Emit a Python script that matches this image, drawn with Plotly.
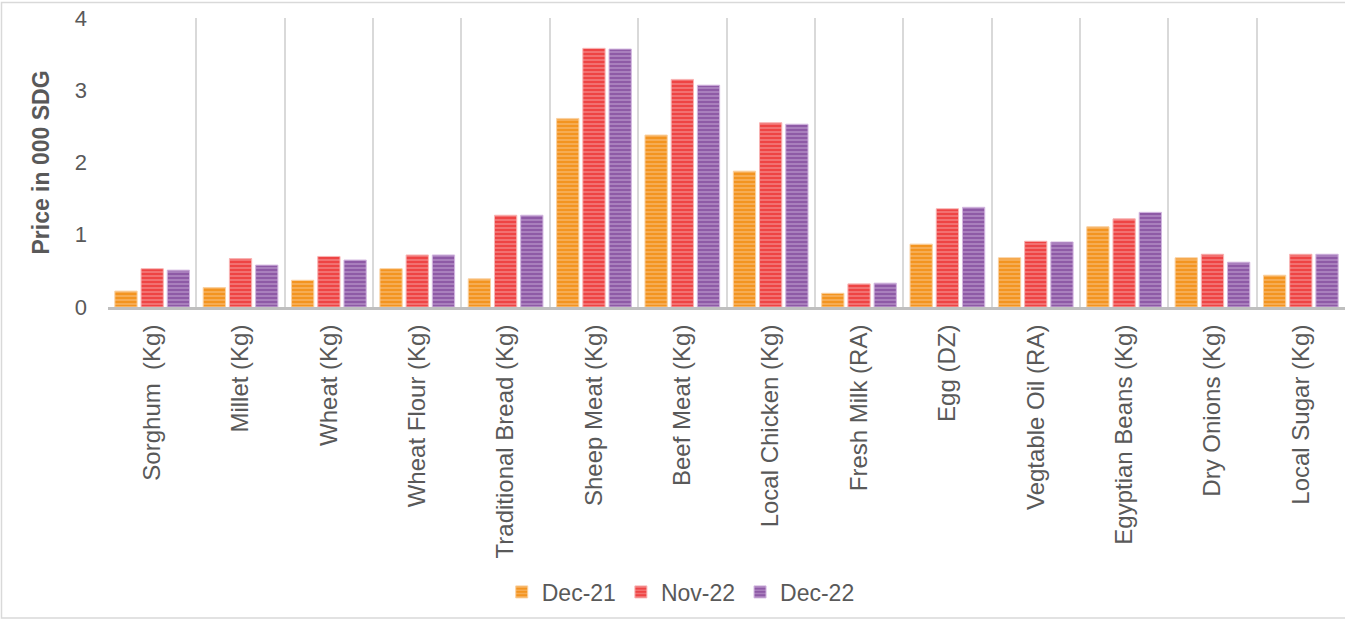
import plotly.graph_objects as go

categories = ["Sorghum \u00a0(Kg)", "Millet (Kg)", "Wheat (Kg)", "Wheat Flour (Kg)",
              "Traditional Bread (Kg)", "Sheep Meat (Kg)", "Beef Meat (Kg)",
              "Local Chicken (Kg)", "Fresh Milk (RA)", "Egg (DZ)", "Vegtable Oil (RA)",
              "Egyptian Beans (Kg)", "Dry Onions (Kg)", "Local Sugar (Kg)"]
dec21 = [0.22, 0.27, 0.37, 0.53, 0.39, 2.61, 2.38, 1.88, 0.19, 0.87, 0.68, 1.11, 0.68, 0.44]
nov22 = [0.53, 0.67, 0.70, 0.72, 1.27, 3.58, 3.15, 2.55, 0.32, 1.36, 0.91, 1.22, 0.73, 0.73]
dec22 = [0.51, 0.58, 0.65, 0.72, 1.27, 3.57, 3.07, 2.53, 0.33, 1.38, 0.90, 1.31, 0.62, 0.73]
series_names = ["Dec-21", "Nov-22", "Dec-22"]

colors = ["#F39420", "#EE4444", "#8E5AA6"]
lights = ["#FAD1A0", "#F8B4B4", "#D2B6DF"]

fig = go.Figure()
for name, vals, c, lc in zip(series_names, [dec21, nov22, dec22], colors, lights):
    fig.add_trace(go.Bar(
        x=categories, y=vals, name=name,
        marker=dict(color=c, line=dict(color=lc, width=1),
                    pattern=dict(shape="-", bgcolor=c, fgcolor=lc, size=4, solidity=0.4)),
    ))

font = "Liberation Sans, Arial, sans-serif"
fig.update_layout(
    width=1345, height=620,
    margin=dict(l=108, r=0, t=18, b=313),
    paper_bgcolor="white", plot_bgcolor="white",
    barmode="group", bargap=0.11, bargroupgap=0.15,
    font=dict(family=font, color="#595959", size=22),
    showlegend=True,
    legend=dict(orientation="h", x=0.463, xanchor="center", y=-0.986, yanchor="middle",
                font=dict(size=23, color="#595959"), itemwidth=30, traceorder="normal"),
    xaxis=dict(type="category", tickson="boundaries", showgrid=True, gridcolor="#D9D9D9",
               gridwidth=2, showline=True, linecolor="#BFBFBF", linewidth=3,
               tickangle=-90, tickfont=dict(size=24, color="#595959"),
               ticks="", ticklabelstandoff=5),
    yaxis=dict(range=[0, 4], dtick=1, showgrid=False, zeroline=False, showline=False,
               tickfont=dict(size=22, color="#595959"), ticklabelstandoff=20,
               title=dict(text="<b>Price in 000 SDG</b>", font=dict(size=23, color="#595959"),
                          standoff=18)),
    shapes=[dict(type="rect", xref="paper", yref="paper",
                 x0=(1.5 - 108) / 1237, x1=(1347 - 108) / 1237,
                 y0=(307 - 618) / 289, y1=(307 - 2.5) / 289,
                 line=dict(color="#D9D9D9", width=1.5), fillcolor="rgba(0,0,0,0)", layer="below")],
)
fig.write_html("out.html")
